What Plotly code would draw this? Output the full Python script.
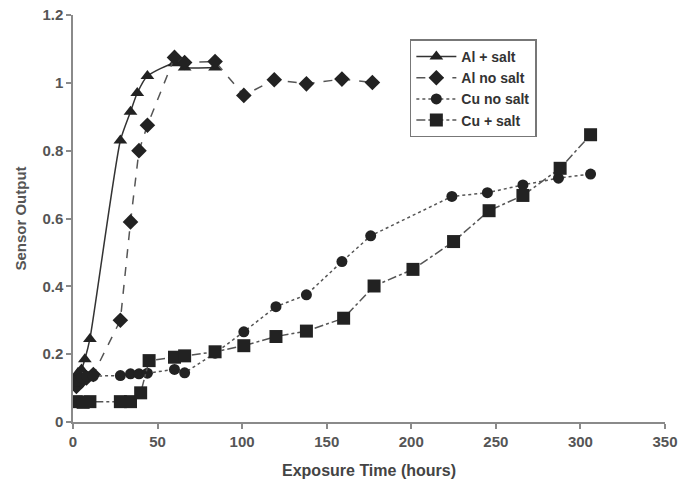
import plotly.graph_objects as go

# Data
al_salt_x = [1, 3, 5, 7, 10, 28, 34, 38, 44, 60, 66, 84]
al_salt_y = [0.13, 0.145, 0.155, 0.185, 0.245, 0.83, 0.915, 0.97, 1.02, 1.058, 1.045, 1.045]

al_nosalt_x = [2, 5, 8, 12, 28, 34, 39, 44, 60, 66, 84, 101, 119, 138, 159, 177]
al_nosalt_y = [0.105, 0.12, 0.13, 0.14, 0.30, 0.59, 0.80, 0.875, 1.075, 1.06, 1.063,
               0.963, 1.009, 0.997, 1.011, 1.001]

cu_nosalt_x = [2, 5, 8, 12, 28, 34, 39, 44, 60, 66, 84, 101, 120, 138, 159, 176,
               224, 245, 266, 287, 306]
cu_nosalt_y = [0.12, 0.13, 0.135, 0.135, 0.137, 0.142, 0.142, 0.144, 0.155, 0.145,
               0.203, 0.266, 0.34, 0.375, 0.473, 0.549, 0.665, 0.676, 0.699, 0.719, 0.731]

cu_salt_x = [2, 6, 10, 28, 34, 40, 45, 60, 66, 84, 101, 120, 138, 160, 178, 201,
             225, 246, 266, 288, 306]
cu_salt_y = [0.06, 0.058, 0.06, 0.06, 0.06, 0.086, 0.181, 0.191, 0.195, 0.207, 0.225,
             0.252, 0.268, 0.306, 0.401, 0.45, 0.532, 0.623, 0.668, 0.748, 0.847]

names = ["Al + salt", "Al no salt", "Cu no salt", "Cu + salt"]

FONT = "Liberation Sans, Arial, sans-serif"
MK = "#222222"

fig = go.Figure()
fig.add_trace(go.Scatter(
    x=al_salt_x, y=al_salt_y, name=names[0], mode="lines+markers",
    line=dict(color="#333333", width=1.5, shape="spline", smoothing=0.6),
    marker=dict(symbol="triangle-up", size=12, color=MK)))
fig.add_trace(go.Scatter(
    x=al_nosalt_x, y=al_nosalt_y, name=names[1], mode="lines+markers",
    line=dict(color="#555555", width=1.5, dash="dash"),
    marker=dict(symbol="diamond", size=12, color=MK)))
fig.add_trace(go.Scatter(
    x=cu_nosalt_x, y=cu_nosalt_y, name=names[2], mode="lines+markers",
    line=dict(color="#555555", width=1.5, dash="dot"),
    marker=dict(symbol="circle", size=11, color=MK)))
fig.add_trace(go.Scatter(
    x=cu_salt_x, y=cu_salt_y, name=names[3], mode="lines+markers",
    line=dict(color="#555555", width=1.5, dash="dashdot"),
    marker=dict(symbol="square", size=13, color=MK)))

axis_common = dict(
    showgrid=False, zeroline=False, showline=True, linecolor="#8a8a8a", linewidth=1.5,
    ticks="outside", ticklen=5, tickcolor="#8a8a8a", tickwidth=1.5, automargin=False,
    tickfont=dict(family=FONT, size=15, color="#555555", weight="bold"),
)

fig.update_layout(
    width=680, height=482,
    margin=dict(l=73, r=15, t=15, b=60),
    paper_bgcolor="white", plot_bgcolor="white",
    font=dict(family=FONT, color="#444444"),
    showlegend=True,
    legend=dict(
        x=0.569, y=0.94, xanchor="left", yanchor="top",
        bordercolor="#777777", borderwidth=1.5, bgcolor="white",
        font=dict(family=FONT, size=14, color="#333333", weight="bold"),
        itemwidth=40, tracegroupgap=0,
    ),
    xaxis=dict(range=[0, 350], dtick=50, tick0=0,
               title=dict(text="Exposure Time (hours)", standoff=16,
                          font=dict(family=FONT, size=16, color="#444444", weight="bold")),
               **axis_common),
    yaxis=dict(range=[0, 1.2], dtick=0.2, tick0=0,
               title=dict(text="Sensor Output", standoff=12,
                          font=dict(family=FONT, size=15, color="#555555", weight="bold")),
               **axis_common),
)

# remove the default 8px page margin so the figure sits at the window's corner
fig.write_html("out.html", config={"displayModeBar": False},
               post_script="document.body.style.margin='0';")
